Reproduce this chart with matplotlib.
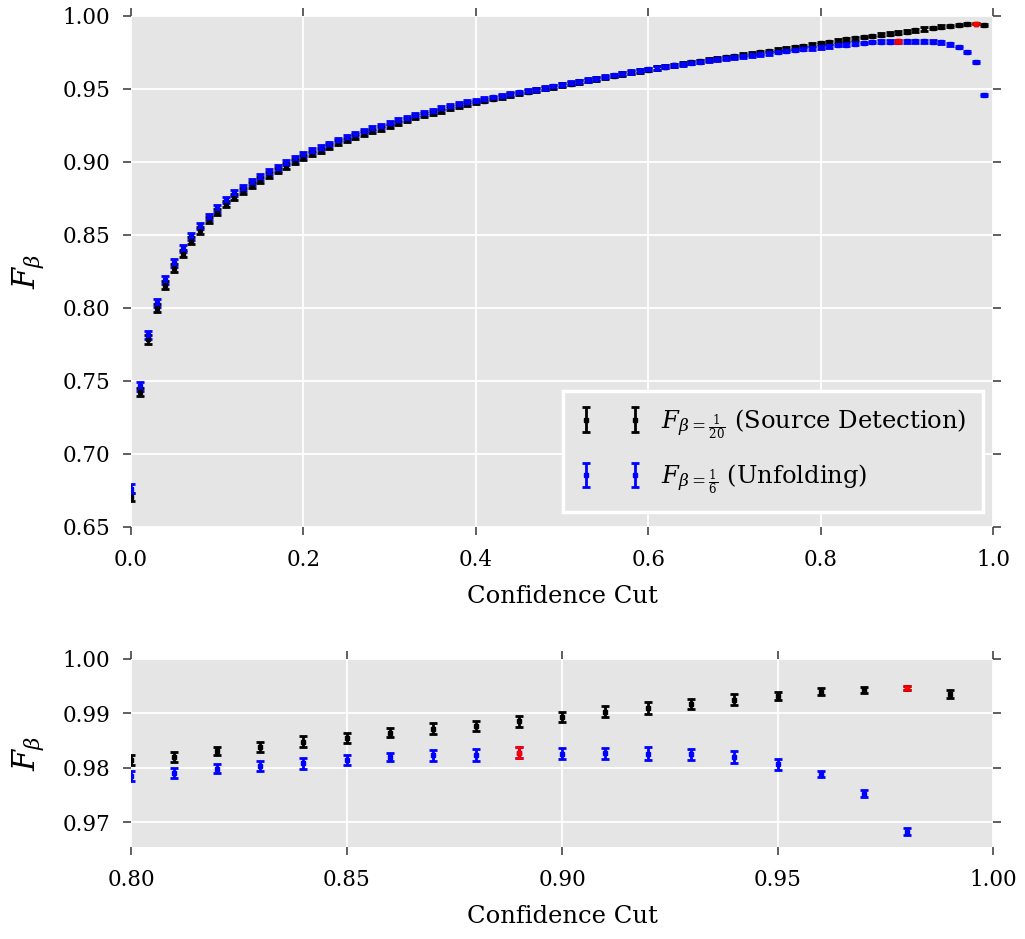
import numpy as np
import matplotlib
matplotlib.use("Agg")
import matplotlib.pyplot as plt

# ---------------- data ----------------
cuts = np.round(np.arange(0, 100) / 100.0, 2)

f_source = [
    0.6705, 0.7425, 0.7785, 0.8002, 0.8158, 0.8275, 0.8372, 0.8462, 0.8533, 0.8602,
    0.8659, 0.8711, 0.8762, 0.8800, 0.8842, 0.8876, 0.8910, 0.8940, 0.8972, 0.9002,
    0.9032, 0.9059, 0.9077, 0.9105, 0.9132, 0.9150, 0.9173, 0.9196, 0.9212, 0.9230,
    0.9248, 0.9269, 0.9287, 0.9306, 0.9319, 0.9337, 0.9351, 0.9367, 0.9381, 0.9397,
    0.9408, 0.9420, 0.9433, 0.9445, 0.9459, 0.9470, 0.9481, 0.9493, 0.9504, 0.9515,
    0.9526, 0.9537, 0.9548, 0.9558, 0.9568, 0.9580, 0.9591, 0.9602, 0.9613, 0.9623,
    0.9633, 0.9643, 0.9652, 0.9662, 0.9672, 0.9682, 0.9691, 0.9700, 0.9708, 0.9717,
    0.9725, 0.9733, 0.9742, 0.9752, 0.9760, 0.9769, 0.9777, 0.9786, 0.9794, 0.9804,
    0.9814, 0.9820, 0.9831, 0.9839, 0.9848, 0.9855, 0.9865, 0.9872, 0.9877, 0.9886,
    0.9893, 0.9903, 0.9910, 0.9918, 0.9925, 0.9932, 0.9940, 0.9943, 0.9947, 0.9936,
]
err_source = [
    0.0030, 0.0030, 0.0029, 0.0028, 0.0027, 0.0026, 0.0025, 0.0024, 0.0023, 0.0023,
    0.0022, 0.0022, 0.0021, 0.0021, 0.0020, 0.0020, 0.0019, 0.0019, 0.0018, 0.0018,
    0.0018, 0.0017, 0.0017, 0.0017, 0.0016, 0.0016, 0.0016, 0.0015, 0.0015, 0.0015,
    0.0015, 0.0014, 0.0014, 0.0014, 0.0014, 0.0013, 0.0013, 0.0013, 0.0013, 0.0013,
    0.0012, 0.0012, 0.0012, 0.0012, 0.0012, 0.0012, 0.0012, 0.0012, 0.0012, 0.0012,
    0.0012, 0.0012, 0.0011, 0.0011, 0.0011, 0.0011, 0.0011, 0.0011, 0.0011, 0.0011,
    0.0011, 0.0011, 0.0011, 0.0010, 0.0010, 0.0010, 0.0010, 0.0010, 0.0010, 0.0010,
    0.0010, 0.0010, 0.0010, 0.0010, 0.0010, 0.0010, 0.0010, 0.0010, 0.0010, 0.0010,
    0.0009, 0.0009, 0.0008, 0.0009, 0.0010, 0.0009, 0.0008, 0.0010, 0.0010, 0.0010,
    0.0009, 0.0010, 0.0011, 0.0009, 0.0010, 0.0008, 0.0006, 0.0006, 0.0003, 0.0008,
]
f_unfold = [
    0.6762, 0.7464, 0.7814, 0.8035, 0.8191, 0.8309, 0.8408, 0.8490, 0.8561, 0.8624,
    0.8682, 0.8739, 0.8789, 0.8823, 0.8864, 0.8899, 0.8933, 0.8960, 0.8995, 0.9025,
    0.9052, 0.9077, 0.9098, 0.9123, 0.9150, 0.9169, 0.9191, 0.9212, 0.9230, 0.9248,
    0.9265, 0.9287, 0.9303, 0.9319, 0.9335, 0.9351, 0.9367, 0.9381, 0.9395, 0.9408,
    0.9420, 0.9431, 0.9443, 0.9454, 0.9465, 0.9477, 0.9487, 0.9496, 0.9507, 0.9518,
    0.9529, 0.9540, 0.9551, 0.9561, 0.9571, 0.9583, 0.9594, 0.9605, 0.9616, 0.9626,
    0.9635, 0.9644, 0.9652, 0.9661, 0.9670, 0.9679, 0.9687, 0.9695, 0.9702, 0.9710,
    0.9717, 0.9724, 0.9731, 0.9739, 0.9746, 0.9753, 0.9760, 0.9767, 0.9774, 0.9780,
    0.9786, 0.9791, 0.9799, 0.9804, 0.9809, 0.9815, 0.9820, 0.9823, 0.9824, 0.9828,
    0.9826, 0.9827, 0.9826, 0.9825, 0.9820, 0.9807, 0.9789, 0.9753, 0.9683, 0.9460,
]
err_unfold = [
    0.0030, 0.0030, 0.0029, 0.0028, 0.0027, 0.0026, 0.0025, 0.0024, 0.0023, 0.0023,
    0.0022, 0.0022, 0.0021, 0.0021, 0.0020, 0.0020, 0.0019, 0.0019, 0.0018, 0.0018,
    0.0018, 0.0017, 0.0017, 0.0017, 0.0016, 0.0016, 0.0016, 0.0015, 0.0015, 0.0015,
    0.0015, 0.0014, 0.0014, 0.0014, 0.0014, 0.0013, 0.0013, 0.0013, 0.0013, 0.0013,
    0.0012, 0.0012, 0.0012, 0.0012, 0.0012, 0.0012, 0.0012, 0.0012, 0.0012, 0.0012,
    0.0012, 0.0012, 0.0011, 0.0011, 0.0011, 0.0011, 0.0011, 0.0011, 0.0011, 0.0011,
    0.0011, 0.0011, 0.0011, 0.0010, 0.0010, 0.0010, 0.0010, 0.0010, 0.0010, 0.0010,
    0.0010, 0.0010, 0.0010, 0.0010, 0.0010, 0.0010, 0.0010, 0.0010, 0.0010, 0.0010,
    0.0009, 0.0009, 0.0008, 0.0009, 0.0010, 0.0009, 0.0008, 0.0010, 0.0011, 0.0010,
    0.0010, 0.0010, 0.0012, 0.0010, 0.0011, 0.0010, 0.0006, 0.0006, 0.0006, 0.0008,
]

label_source = r"$F_{\beta=\frac{1}{20}}$ (Source Detection)"
label_unfold = r"$F_{\beta=\frac{1}{6}}$ (Unfolding)"

top_xticks = [0.0, 0.2, 0.4, 0.6, 0.8, 1.0]
top_yticks = [0.65, 0.70, 0.75, 0.80, 0.85, 0.90, 0.95, 1.00]
bot_xticks = [0.80, 0.85, 0.90, 0.95, 1.00]
bot_yticks = [0.97, 0.98, 0.99, 1.00]

# ---------------- style ----------------
plt.rcParams["font.family"] = ["DejaVu Serif"]
plt.rcParams["mathtext.fontset"] = "dejavuserif"

fig = plt.figure(figsize=(10.25, 9.39), dpi=100)
ax1 = fig.add_axes([0.1278, 0.4388, 0.8410, 0.5442])
ax2 = fig.add_axes([0.1278, 0.0980, 0.8410, 0.2002])

eb_kw = dict(fmt="s", ms=3, elinewidth=2.0, capsize=3, capthick=2.0)

x = np.asarray(cuts)
ys = np.asarray(f_source); es = np.asarray(err_source)
yu = np.asarray(f_unfold); eu = np.asarray(err_unfold)
i_s = int(np.argmax(ys)); i_u = int(np.argmax(yu))

for ax in (ax1, ax2):
    ax.set_facecolor("#E5E5E5")
    ax.grid(True, color="white", linewidth=1.3)
    ax.set_axisbelow(True)
    for sp in ax.spines.values():
        sp.set_visible(False)
    ax.errorbar(x, ys, yerr=es, color="black", label=label_source, **eb_kw)
    ax.errorbar(x, yu, yerr=eu, color="#0000FF", label=label_unfold, **eb_kw)
    ax.errorbar(x[i_s], ys[i_s], yerr=es[i_s], color="#FF0000", **eb_kw)
    ax.errorbar(x[i_u], yu[i_u], yerr=eu[i_u], color="#FF0000", **eb_kw)
    ax.tick_params(direction="out", length=6, width=1.2, color="#444444",
                   labelcolor="black", labelsize=15.5, top=True, right=True)
    ax.tick_params(axis="x", pad=10)
    ax.tick_params(axis="y", pad=9)
    ax.set_xlabel("Confidence Cut", fontsize=17.5, labelpad=10)
    ax.set_ylabel(r"$F_\beta$", fontsize=22, labelpad=12)

ax1.set_xlim(0, 1)
ax1.set_ylim(0.65, 1.0)
ax1.set_xticks(top_xticks)
ax1.set_xticklabels([f"{v:.1f}" for v in top_xticks])
ax1.set_yticks(top_yticks)
ax1.set_yticklabels([f"{v:.2f}" for v in top_yticks])

ax2.set_xlim(0.8, 1.0)
ax2.set_ylim(0.9655, 1.0)
ax2.set_xticks(bot_xticks)
ax2.set_xticklabels([f"{v:.2f}" for v in bot_xticks])
ax2.set_yticks(bot_yticks)
ax2.set_yticklabels([f"{v:.2f}" for v in bot_yticks])

leg = ax1.legend(loc="lower right", bbox_to_anchor=(0.988, 0.029), borderaxespad=0,
                 numpoints=2, fontsize=17.5, frameon=True, fancybox=False,
                 facecolor="#E5E5E5", edgecolor="white", framealpha=1,
                 handlelength=2.6, handletextpad=0.8, labelspacing=0.9, borderpad=0.65)
leg.get_frame().set_linewidth(2.5)

fig.savefig("out.png", dpi=100)
